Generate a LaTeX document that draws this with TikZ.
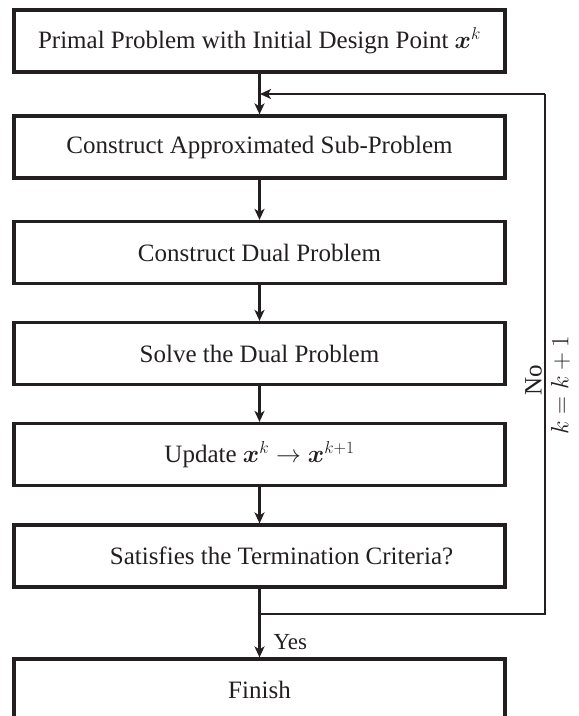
\documentclass[tikz,border=0pt]{standalone}
\usepackage{amsmath}
\usepackage{fontspec}
\setmainfont{Liberation Serif}
\usetikzlibrary{arrows.meta,positioning}

\definecolor{ink}{RGB}{35,31,32}

\begin{document}
\begin{tikzpicture}[
    x=1pt, y=-1pt,
    font=\fontsize{25}{29}\selectfont,
    stepbox/.style={draw=ink, line width=3.2pt, minimum width=491pt,
                    minimum height=62pt, inner sep=0pt, text=ink},
    conn/.style={draw=ink, line width=2.3pt,
                 -{Stealth[length=11pt,width=10pt,inset=3pt]}},
    loopline/.style={draw=ink, line width=2.4pt},
    side/.style={text=ink, inner sep=2pt}
  ]
  \useasboundingbox (0,0) rectangle (579,716);
  \clip (0,0) rectangle (579,716);

  % process steps
  \node[stepbox] (b1) at (259.5,41)    {Primal Problem with Initial Design Point $\boldsymbol{x}^{k}$};
  \node[stepbox] (b2) at (259.5,147)   {Construct Approximated Sub-Problem};
  \node[stepbox] (b3) at (259.5,252.5) {Construct Dual Problem};
  \node[stepbox] (b4) at (259.5,353.5) {Solve the Dual Problem};
  \node[stepbox] (b5) at (259.5,454.5) {Update $\boldsymbol{x}^{k}\rightarrow\boldsymbol{x}^{k+1}$};
  \node[stepbox, label={[xshift=22pt, text=ink]center:Satisfies the Termination Criteria?}]
        (b6) at (259.5,556) {};
  \node[stepbox] (fin) at (259.5,690)  {Finish};

  % points of the feedback loop
  \coordinate (join)   at (260,94);
  \coordinate (split)  at (260,614);
  \coordinate (loopTR) at (545,94);
  \coordinate (loopBR) at (545,614);

  % main flow
  \draw[conn] (b1) -- (b2);
  \draw[conn] (b2) -- (b3);
  \draw[conn] (b3) -- (b4);
  \draw[conn] (b4) -- (b5);
  \draw[conn] (b5) -- (b6);
  \draw[conn] (b6) -- node[pos=0.78, right, side, xshift=11pt,
                           font=\fontsize{23}{27}\selectfont] {Yes} (fin);

  % return branch
  \draw[loopline] (split) -- (loopBR)
     -- node[pos=0.45, rotate=90, anchor=south, side] {No}
        node[pos=0.44, rotate=90, anchor=north, side, inner sep=5pt] {$k=k+1$}
        (loopTR);
  \draw[conn] (loopTR) -- (join);
\end{tikzpicture}
\end{document}
